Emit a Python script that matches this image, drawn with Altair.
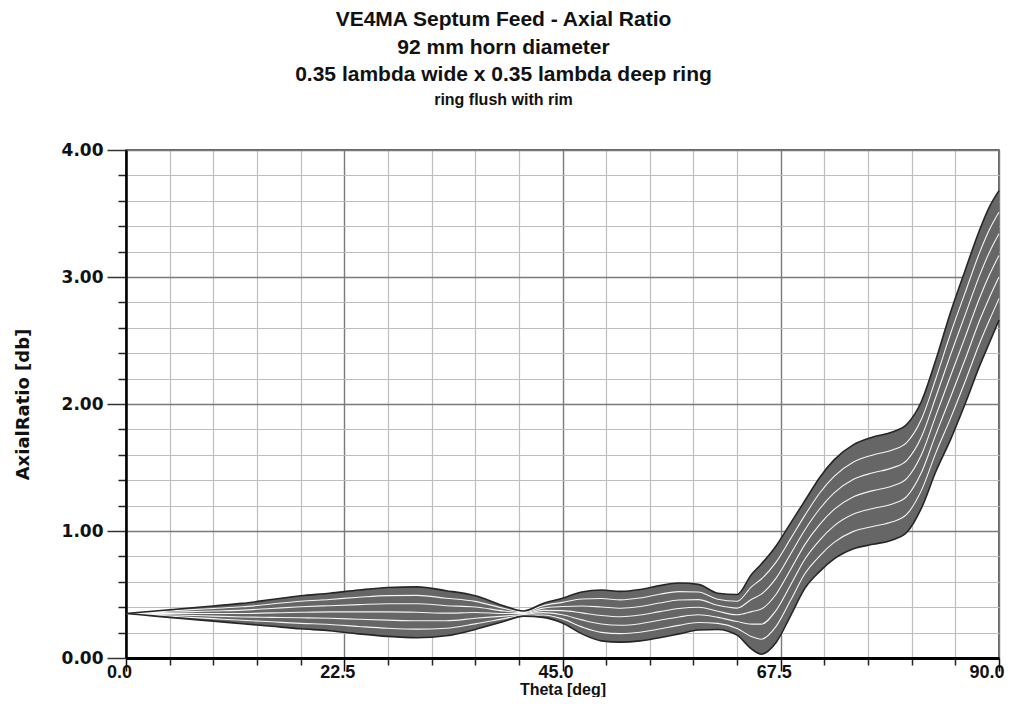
import altair as alt
import pandas as pd

# ---- data ----
theta = [0, 3, 6, 9, 12, 15, 18, 21, 24, 27, 30, 33, 36, 39,
         41, 43, 45, 47, 49, 51, 53, 55, 57, 59, 61, 63,
         64.5, 65.5, 67, 68.5, 70, 71.5, 73, 75, 77, 79, 80.5, 82, 83.5, 85, 86.5, 88, 89, 90]

lower = [.35, .33, .31, .29, .27, .25, .23, .215, .19, .17, .16, .175, .225, .29,
         .33, .32, .275, .19, .135, .125, .135, .16, .19, .22, .225, .18,
         .07, .03, .12, .33, .55, .68, .78, .86, .895, .93, .99, 1.18, 1.47, 1.72, 2.0, 2.3, 2.48, 2.66]

upper = [.35, .37, .39, .41, .43, .46, .49, .51, .535, .555, .56, .53, .49, .41,
         .37, .43, .47, .52, .535, .525, .54, .57, .59, .58, .51, .50,
         .66, .74, .88, 1.06, 1.24, 1.42, 1.56, 1.68, 1.74, 1.78, 1.84, 2.02, 2.35, 2.72, 3.05, 3.37, 3.55, 3.68]

curve_a = [.35, .337, .323, .31, .297, .285, .273, .264, .248, .234, .227, .234, .269, .31,
           .337, .338, .308, .245, .202, .192, .203, .228, .257, .28, .273, .233,
           .168, .148, .247, .452, .665, .803, .91, .997, 1.036, 1.072, 1.132, 1.32, 1.617, 1.887, 2.175, 2.478, 2.658, 2.83]
curve_b = [.35, .343, .337, .33, .323, .32, .317, .313, .305, .298, .293, .293, .313, .33,
           .343, .357, .34, .30, .268, .258, .27, .297, .323, .34, .32, .287,
           .267, .267, .373, .573, .78, .927, 1.04, 1.133, 1.177, 1.213, 1.273, 1.46, 1.763, 2.053, 2.35, 2.657, 2.837, 3.0]
curve_c = [.35, .35, .35, .35, .35, .355, .36, .363, .363, .363, .36, .353, .358, .35,
           .35, .375, .373, .355, .335, .325, .338, .365, .39, .40, .368, .34,
           .365, .385, .50, .695, .895, 1.05, 1.17, 1.27, 1.318, 1.355, 1.415, 1.60, 1.91, 2.22, 2.525, 2.835, 3.015, 3.17]
curve_d = [.35, .357, .363, .37, .377, .39, .403, .412, .42, .427, .427, .412, .402, .37,
           .357, .393, .405, .41, .402, .392, .405, .433, .457, .46, .415, .393,
           .463, .503, .627, .817, 1.01, 1.173, 1.30, 1.407, 1.458, 1.497, 1.557, 1.74, 2.057, 2.387, 2.70, 3.013, 3.193, 3.34]
curve_e = [.35, .363, .377, .39, .403, .425, .447, .461, .478, .491, .493, .471, .446, .39,
           .363, .412, .438, .465, .468, .458, .473, .502, .523, .52, .463, .447,
           .562, .622, .753, .938, 1.125, 1.297, 1.43, 1.543, 1.599, 1.638, 1.698, 1.88, 2.203, 2.553, 2.875, 3.192, 3.372, 3.51]

x_major = [0, 22.5, 45, 67.5, 90]
x_minor = [4.5, 9, 13.5, 18, 27, 31.5, 36, 40.5, 49.5, 54, 58.5, 63, 72, 76.5, 81, 85.5]
y_major = [0, 1, 2, 3, 4]
y_minor = [0.2, 0.4, 0.6, 0.8, 1.2, 1.4, 1.6, 1.8, 2.2, 2.4, 2.6, 2.8, 3.2, 3.4, 3.6, 3.8]

title_lines = ["VE4MA Septum Feed - Axial Ratio", "92 mm horn diameter",
               "0.35 lambda wide x 0.35 lambda deep ring"]
subtitle_line = "ring flush with rim"

# ---- tables ----
env = pd.DataFrame({"theta": theta, "lo": lower, "hi": upper})
inner_names = ["a", "b", "c", "d", "e"]
inner_vals = [curve_a, curve_b, curve_c, curve_d, curve_e]
inner = pd.DataFrame([
    {"theta": t, "ar": v, "curve": n}
    for n, vals in zip(inner_names, inner_vals) for t, v in zip(theta, vals)
])
edges = pd.DataFrame(
    [{"theta": t, "ar": v, "curve": "lo"} for t, v in zip(theta, lower)] +
    [{"theta": t, "ar": v, "curve": "hi"} for t, v in zip(theta, upper)]
)

xs = alt.Scale(domain=[0, 90], nice=False, zero=False)
ys = alt.Scale(domain=[0, 4], nice=False, zero=False)

LBL_X = "Liberation Sans"
LBL_Y = "DejaVu Sans"

# minor grid + ticks, with the bundle area
area = alt.Chart(env).mark_area(interpolate="monotone", color="#666666").encode(
    x=alt.X("theta:Q", scale=xs, axis=alt.Axis(
        orient="bottom", values=x_minor, labels=False, title=None, domain=False,
        grid=True, gridColor="#bdbdbd", gridWidth=1.2,
        ticks=True, tickSize=7, tickColor="#222", tickWidth=1.5)),
    y=alt.Y("lo:Q", scale=ys, axis=alt.Axis(
        orient="left", values=y_minor, labels=False, title=None, domain=False,
        grid=True, gridColor="#bdbdbd", gridWidth=1.2,
        ticks=True, tickSize=8, tickColor="#222", tickWidth=1.5)),
    y2="hi:Q",
)

inner_lines = alt.Chart(inner).mark_line(
    interpolate="monotone", color="#f4f4f4", strokeWidth=1.1
).encode(
    x=alt.X("theta:Q", scale=xs, axis=None),
    y=alt.Y("ar:Q", scale=ys, axis=None),
    detail="curve:N",
)

# major grid, ticks, labels and titles
edge_lines = alt.Chart(edges).mark_line(
    interpolate="monotone", color="#262626", strokeWidth=1.6
).encode(
    x=alt.X("theta:Q", scale=xs, axis=alt.Axis(
        orient="bottom", values=x_major, format=".1f",
        grid=True, gridColor="#7a7a7a", gridWidth=1.4,
        ticks=True, tickSize=13, tickColor="#111", tickWidth=1.5,
        domain=True, domainColor="#000", domainWidth=3,
        labelFont=LBL_X, labelFontSize=18, labelFontWeight="bold", labelColor="#111",
        labelPadding=-8,
        labelAlign={"condition": {"test": "datum.value == 90", "value": "right"}, "value": "center"},
        labelOffset={"condition": {"test": "datum.value == 90", "value": 5}, "value": -7},
        labelFlush=False, labelOverlap=False, labelBound=False,
        title="Theta [deg]", titleFont=LBL_X, titleFontSize=16, titleFontWeight="bold",
        titleColor="#111", titlePadding=0)),
    y=alt.Y("ar:Q", scale=ys, axis=alt.Axis(
        orient="left", values=y_major, format=".2f",
        grid=True, gridColor="#7a7a7a", gridWidth=1.4,
        ticks=True, tickSize=19, tickColor="#333", tickWidth=1.5,
        domain=True, domainColor="#000", domainWidth=2.5,
        labelFont=LBL_Y, labelFontSize=17, labelFontWeight="bold", labelColor="#111",
        labelPadding=4, labelFlush=False, labelOverlap=False,
        title="AxialRatio [db]", titleFont=LBL_Y, titleFontSize=18, titleFontWeight="bold",
        titleColor="#111", titlePadding=29)),
    detail="curve:N",
)

chart = alt.layer(area, inner_lines, edge_lines).resolve_axis(
    x="independent", y="independent"
).properties(
    width=873,
    height=508,
    autosize=alt.AutoSizeParams(type="none"),
    padding={"left": 118, "top": 142, "right": 6, "bottom": 39},
    background="white",
    title=alt.TitleParams(
        text=title_lines, subtitle=subtitle_line,
        font=LBL_X, fontSize=21, fontWeight="bold", color="#111", lineHeight=27.5,
        subtitleFont=LBL_X, subtitleFontSize=16, subtitleFontWeight="bold",
        subtitleColor="#111", subtitlePadding=7,
        anchor="middle", frame="group", dx=-59, offset=33,
    ),
).configure_view(stroke="#333", strokeWidth=1.5)

chart.save("out.html", embed_options={"renderer": "svg", "actions": False})
